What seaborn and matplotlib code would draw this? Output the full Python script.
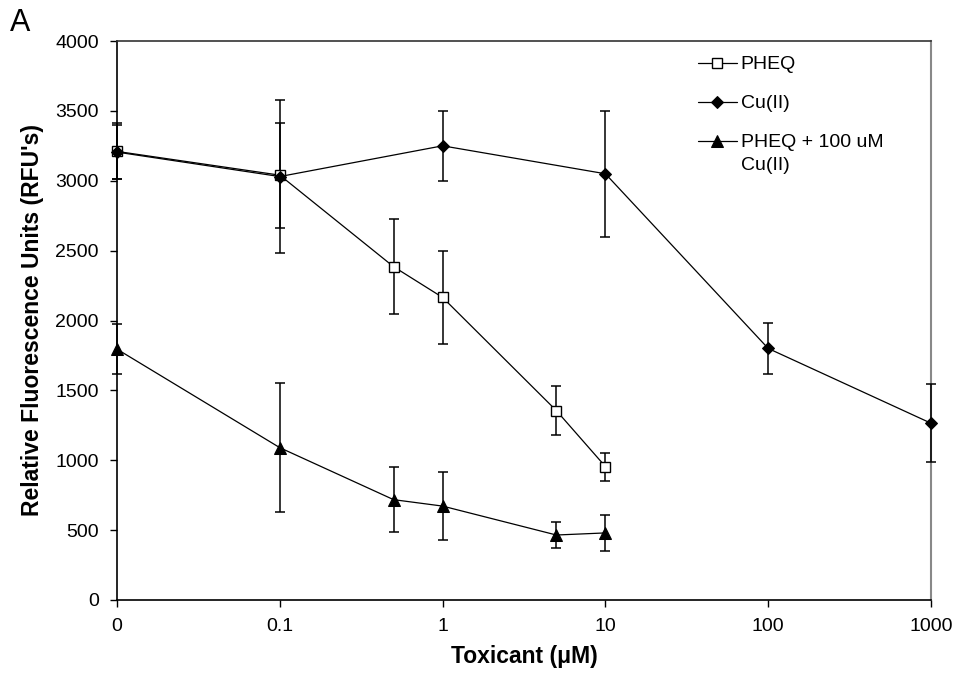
import numpy as np
import pandas as pd
import matplotlib
matplotlib.use("Agg")
import matplotlib.pyplot as plt
import seaborn as sns

# ---- data ----
conc_pheq = [0, 0.1, 0.5, 1, 5, 10]
rfu_pheq = [3210, 3040, 2385, 2165, 1355, 955]
err_pheq = [200, 375, 340, 330, 175, 100]

conc_cu = [0, 0.1, 1, 10, 100, 1000]
rfu_cu = [3205, 3030, 3250, 3050, 1800, 1265]
err_cu = [195, 550, 250, 450, 185, 280]

conc_mix = [0, 0.1, 0.5, 1, 5, 10]
rfu_mix = [1795, 1090, 718, 672, 465, 480]
err_mix = [180, 460, 232, 242, 95, 130]

series_names = ["PHEQ", "Cu(II)", "PHEQ + 100 uM\nCu(II)"]
x_ticks = [0, 0.1, 1, 10, 100, 1000]
x_tick_labels = ["0", "0.1", "1", "10", "100", "1000"]
y_ticks = [0, 500, 1000, 1500, 2000, 2500, 3000, 3500, 4000]

sns.set_style("ticks")
plt.rcParams["font.family"] = ["Liberation Sans", "DejaVu Sans"]
plt.rcParams["text.color"] = "black"
plt.rcParams["axes.labelcolor"] = "black"
plt.rcParams["xtick.color"] = "black"
plt.rcParams["ytick.color"] = "black"

fig = plt.figure(figsize=(9.57, 6.80), dpi=100)
ax = fig.add_axes([117 / 957, 1 - 600 / 680, (931 - 117) / 957, (600 - 41) / 680])

styles = [
    dict(marker="s", markersize=6.5, markerfacecolor="white", markeredgecolor="black", markeredgewidth=1.0),
    dict(marker="D", markersize=6.5, markerfacecolor="black", markeredgecolor="black"),
    dict(marker="^", markersize=8, markerfacecolor="black", markeredgecolor="black"),
]
datasets = [
    (conc_pheq, rfu_pheq, err_pheq),
    (conc_cu, rfu_cu, err_cu),
    (conc_mix, rfu_mix, err_mix),
]

for name, (cx, cy, ce), st in zip(series_names, datasets, styles):
    df = pd.DataFrame({"conc": cx, "rfu": cy})
    ax.errorbar(cx, cy, yerr=ce, fmt="none", ecolor="black", elinewidth=1.1,
                capsize=3.8, capthick=1.1, zorder=3, clip_on=False)
    sns.lineplot(data=df, x="conc", y="rfu", ax=ax, color="black", linewidth=0.9,
                 label=name, zorder=4, clip_on=False, **st)

ax.set_xscale("symlog", linthresh=0.1, linscale=0.9)
ax.set_xlim(0, 1000)
ax.set_ylim(0, 4000)
ax.set_xticks(x_ticks)
ax.set_xticklabels(x_tick_labels)
ax.xaxis.set_minor_locator(matplotlib.ticker.NullLocator())
ax.set_yticks(y_ticks)
ax.set_yticklabels([str(v) for v in y_ticks])

ax.tick_params(axis="both", which="major", direction="out", length=5, width=1,
               colors="black", labelcolor="black", labelsize=14, pad=8)

for side in ["left", "bottom"]:
    ax.spines[side].set_color("black")
    ax.spines[side].set_linewidth(1.2)
ax.spines["top"].set_color("#333333")
ax.spines["top"].set_linewidth(1.2)
ax.spines["right"].set_color("#888888")
ax.spines["right"].set_linewidth(1.5)
ax.spines["top"].set_visible(True)
ax.spines["right"].set_visible(True)

ax.set_xlabel("Toxicant (μM)", fontsize=16.5, fontweight="bold", labelpad=7, color="black")
ax.set_ylabel("Relative Fluorescence Units (RFU's)", fontsize=16.5, fontweight="bold", labelpad=8, color="black")

leg = ax.legend(loc="upper left", bbox_to_anchor=(690 / 957, 1 - 48 / 680),
                bbox_transform=fig.transFigure, frameon=False, fontsize=14,
                handlelength=2.0, handletextpad=0.2, labelspacing=1.1, borderaxespad=0)
for t in leg.get_texts():
    t.set_color("black")
leg.get_texts()[2].set_linespacing(1.5)
# align the handle of the two-line entry with its first line
try:
    items = leg._legend_handle_box.get_children()[0].get_children()
    items[2].align = "top"
except Exception:
    pass

fig.text(10 / 957, 1 - 23 / 680, "A", fontsize=22, va="center", ha="left", color="black")

fig.savefig("out.png", dpi=100)
